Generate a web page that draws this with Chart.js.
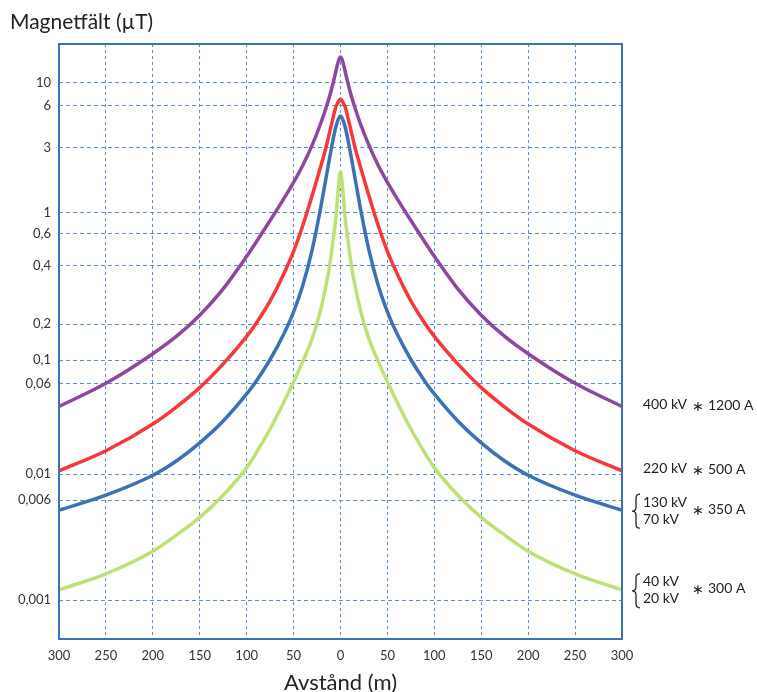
<!DOCTYPE html>
<html>
<head>
<meta charset="utf-8">
<script src="https://cdn.jsdelivr.net/npm/chart.js@4.4.1/dist/chart.umd.min.js"></script>
<style>
	html, body { margin: 0; padding: 0; background: #fff; }
	canvas { display: block; }
</style>
</head>
<body>
<canvas id="fieldChart" width="757" height="692"></canvas>
<script>
// Magnetic field from power lines vs distance (log axis)
const distances = [-300, -250, -200, -175, -150, -125, -100, -90, -75, -60, -50, -40, -30, -22, -16, -12, -8, -5, -2, 0,
	2, 5, 8, 12, 16, 22, 30, 40, 50, 60, 75, 90, 100, 125, 150, 175, 200, 250, 300];

const field400kV = [0.038, 0.06, 0.113, 0.158, 0.223, 0.305, 0.452, 0.54, 0.829, 1.28, 1.67, 2.24, 3.16, 4.32, 5.66, 7.23, 9.83, 12.3, 15.1, 16.1,
	15.1, 12.3, 9.83, 7.23, 5.66, 4.32, 3.16, 2.24, 1.67, 1.28, 0.829, 0.54, 0.452, 0.305, 0.223, 0.158, 0.113, 0.06, 0.038];
const field220kV = [0.0107, 0.0159, 0.0269, 0.0376, 0.0551, 0.0918, 0.158, 0.202, 0.264, 0.368, 0.481, 0.743, 1.35, 2.08, 2.91, 3.77, 4.91, 5.9, 6.62, 7.0,
	6.62, 5.9, 4.91, 3.77, 2.91, 2.08, 1.35, 0.743, 0.481, 0.368, 0.264, 0.202, 0.158, 0.0918, 0.0551, 0.0376, 0.0269, 0.0159, 0.0107];
const field130kV = [0.005, 0.0066, 0.0098, 0.013, 0.0186, 0.0286, 0.0487, 0.0626, 0.101, 0.168, 0.232, 0.32, 0.497, 1.01, 1.71, 2.44, 3.41, 4.23, 4.88, 5.08,
	4.88, 4.23, 3.41, 2.44, 1.71, 1.01, 0.497, 0.32, 0.232, 0.168, 0.101, 0.0626, 0.0487, 0.0286, 0.0186, 0.013, 0.0098, 0.0066, 0.005];
const field40kV = [0.0012, 0.0016, 0.0024, 0.0032, 0.0044, 0.0066, 0.0114, 0.0152, 0.0244, 0.042, 0.0617, 0.098, 0.153, 0.229, 0.308, 0.391, 0.55, 0.88, 1.57, 2.0,
	1.57, 0.88, 0.55, 0.391, 0.308, 0.229, 0.153, 0.098, 0.0617, 0.042, 0.0244, 0.0152, 0.0114, 0.0066, 0.0044, 0.0032, 0.0024, 0.0016, 0.0012];

const yTicks = [10, 6, 3, 1, 0.6, 0.4, 0.2, 0.1, 0.06, 0.01, 0.006, 0.001];
const voltageLabels = [["400 kV"], ["220 kV"], ["130 kV", "70 kV"], ["40 kV", "20 kV"]];
const currentLabels = ["1200 A", "500 A", "350 A", "300 A"];

const colors = ["#8c479f", "#f7383b", "#3c71b3", "#bde174"];
const frameColor = "#3b71b6";
const gridColor = "#5d8dcb";

// The printed log axis is not evenly spaced: [value, share of axis height from bottom]
const axisStops = [
	[0.00049, 0], [0.001, 0.0655], [0.006, 0.2336], [0.01, 0.2768], [0.06, 0.4297], [0.1, 0.4689],
	[0.2, 0.5289], [0.4, 0.6269], [0.6, 0.6807], [1, 0.7165], [3, 0.8257], [6, 0.8958], [10, 0.935], [20.5, 1],
];

function warp(value) {
	const lv = Math.log10(value);
	let i = 0;
	while (i < axisStops.length - 2 && lv > Math.log10(axisStops[i + 1][0])) i++;
	const l0 = Math.log10(axisStops[i][0]);
	const l1 = Math.log10(axisStops[i + 1][0]);
	const f0 = axisStops[i][1];
	const f1 = axisStops[i + 1][1];
	return f0 + ((lv - l0) / (l1 - l0)) * (f1 - f0);
}

function unwarp(dec) {
	let i = 0;
	while (i < axisStops.length - 2 && dec > axisStops[i + 1][1]) i++;
	const l0 = Math.log10(axisStops[i][0]);
	const l1 = Math.log10(axisStops[i + 1][0]);
	const f0 = axisStops[i][1];
	const f1 = axisStops[i + 1][1];
	return Math.pow(10, l0 + ((dec - f0) / (f1 - f0)) * (l1 - l0));
}

class PrintedLogScale extends Chart.LogarithmicScale {
	getPixelForValue(value) {
		if (value === undefined || value === null || isNaN(value) || value <= 0) return NaN;
		return this.getPixelForDecimal(warp(value));
	}
	getValueForPixel(pixel) {
		return unwarp(this.getDecimalForPixel(pixel));
	}
}
PrintedLogScale.id = "printedLog";
Chart.register(PrintedLogScale);

Chart.defaults.font.family = "Lato, 'Open Sans', sans-serif";
Chart.defaults.color = "#333";

function drawBrace(ctx, x, top, bottom) {
	const mid = (top + bottom) / 2;
	ctx.beginPath();
	ctx.moveTo(x + 5, top);
	ctx.quadraticCurveTo(x + 1, top, x + 1, top + 4);
	ctx.lineTo(x + 1, mid - 4);
	ctx.quadraticCurveTo(x + 1, mid, x - 3, mid);
	ctx.quadraticCurveTo(x + 1, mid, x + 1, mid + 4);
	ctx.lineTo(x + 1, bottom - 4);
	ctx.quadraticCurveTo(x + 1, bottom, x + 5, bottom);
	ctx.stroke();
}

const decorations = {
	id: "decorations",
	beforeDraw(chart) {
		const ctx = chart.ctx;
		ctx.save();
		ctx.fillStyle = "#fff";
		ctx.fillRect(0, 0, chart.width, chart.height);
		ctx.restore();
	},
	afterDraw(chart) {
		const { ctx, chartArea: a } = chart;
		const y = chart.scales.y;
		ctx.save();
		// plot frame
		ctx.strokeStyle = frameColor;
		ctx.lineWidth = 2;
		ctx.strokeRect(a.left, a.top, a.right - a.left, a.bottom - a.top);

		// axis titles
		ctx.fillStyle = "#222";
		ctx.textBaseline = "middle";
		ctx.font = "21px Lato, 'Open Sans', sans-serif";
		ctx.textAlign = "left";
		ctx.fillText("Magnetfält (µT)", 10, 22);
		ctx.font = "22px Lato, 'Open Sans', sans-serif";
		ctx.textAlign = "center";
		ctx.fillText("Avstånd (m)", (a.left + a.right) / 2, 683);

		// series labels on the right
		ctx.font = "14px Lato, 'Open Sans', sans-serif";
		ctx.strokeStyle = "#222";
		ctx.lineWidth = 1.3;
		chart.data.datasets.forEach((ds, i) => {
			const yEnd = y.getPixelForValue(ds.data[ds.data.length - 1]);
			const volts = voltageLabels[i];
			ctx.textAlign = "left";
			if (volts.length === 1) {
				ctx.fillText(volts[0], 643, yEnd - 2);
			} else {
				ctx.fillText(volts[0], 643, yEnd - 8);
				ctx.fillText(volts[1], 643, yEnd + 9);
				drawBrace(ctx, 635, yEnd - 16, yEnd + 18);
			}
			ctx.textAlign = "center";
			ctx.fillText("∗", 698, yEnd);
			ctx.textAlign = "left";
			ctx.fillText(currentLabels[i], 708, yEnd - 1);
		});
		ctx.restore();
	},
};

const seriesData = [field400kV, field220kV, field130kV, field40kV];

new Chart(document.getElementById("fieldChart"), {
	type: "line",
	data: {
		labels: distances,
		datasets: seriesData.map((vals, i) => ({
			label: voltageLabels[i].join("/"),
			data: vals,
			borderColor: colors[i],
			borderWidth: 3.5,
			pointRadius: 0,
			fill: false,
			cubicInterpolationMode: "monotone",
		})),
	},
	options: {
		responsive: false,
		animation: false,
		devicePixelRatio: 1,
		layout: { padding: { top: 44, right: 135, bottom: 0, left: 0 } },
		plugins: {
			legend: { display: false },
			tooltip: { enabled: false },
		},
		scales: {
			x: {
				type: "linear",
				min: -300,
				max: 300,
				afterFit: (scale) => { scale.height = 53; },
				ticks: {
					stepSize: 50,
					padding: 9,
					font: { size: 13 },
					callback: (v) => String(Math.abs(v)),
				},
				grid: { color: gridColor, lineWidth: 1, drawTicks: false },
				border: { display: false, dash: [3, 3] },
			},
			y: {
				type: "printedLog",
				min: 0.00049,
				max: 20.5,
				afterFit: (scale) => { scale.width = 59; },
				afterBuildTicks: (scale) => {
					scale.ticks = yTicks.map((v) => ({ value: v }));
				},
				ticks: {
					autoSkip: false,
					padding: 8,
					font: { size: 13 },
					callback: (v) => String(v).replace(".", ","),
				},
				grid: { color: gridColor, lineWidth: 1, drawTicks: false },
				border: { display: false, dash: [4, 3] },
			},
		},
	},
	plugins: [decorations],
});
</script>
</body>
</html>
